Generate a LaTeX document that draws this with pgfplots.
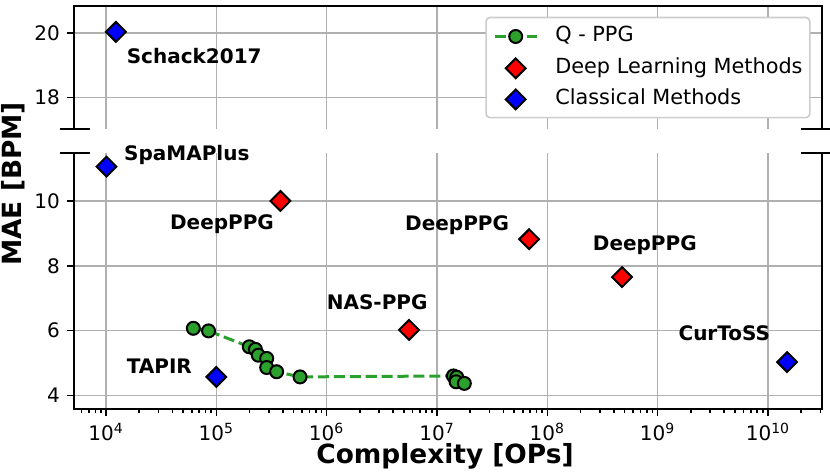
\documentclass[border=0pt]{standalone}
\usepackage{fontspec}
\setmainfont{DejaVu Sans}
\usepackage{pgfplots}
\pgfplotsset{compat=1.18}
\definecolor{qgreen}{HTML}{2CA02C}
\definecolor{gridgray}{HTML}{B0B0B0}
\definecolor{legedge}{HTML}{CCCCCC}
\tikzset{lbl/.style={font=\bfseries\fontsize{10}{12}\selectfont, anchor=base west, inner sep=0pt}}
\begin{document}
\begin{tikzpicture}
\begin{axis}[name=bot, at={(0,0)}, anchor=south west, height=128pt,
  xmode=log, width=374pt, scale only axis,
  xmin=5128, xmax=3.09e10,
  xtick={1e4,1e5,1e6,1e7,1e8,1e9,1e10},
  grid=major, grid style={color=gridgray, line width=0.8pt},
  axis line style={draw=none},
  tick align=outside, tick pos=left,
  major tick length=3.5pt, minor tick length=2pt,
  tick style={black, line width=0.8pt},
  tick label style={font=\fontsize{10}{12}\selectfont},
  clip=false,
  ymin=3.58, ymax=11.48, ytick={4,6,8,10},
  minor xtick={6e3,7e3,8e3,9e3,
    2e4,3e4,4e4,5e4,6e4,7e4,8e4,9e4,
    2e5,3e5,4e5,5e5,6e5,7e5,8e5,9e5,
    2e6,3e6,4e6,5e6,6e6,7e6,8e6,9e6,
    2e7,3e7,4e7,5e7,6e7,7e7,8e7,9e7,
    2e8,3e8,4e8,5e8,6e8,7e8,8e8,9e8,
    2e9,3e9,4e9,5e9,6e9,7e9,8e9,9e9,
    2e10,3e10},
  xticklabels={10\textsuperscript{4},10\textsuperscript{5},10\textsuperscript{6},10\textsuperscript{7},10\textsuperscript{8},10\textsuperscript{9},10\textsuperscript{10}},
  yticklabels={4,6,8,10},
]
\addplot[qgreen, line width=1.5pt, dash pattern=on 5.55pt off 2.4pt, mark=*, mark size=3.25pt,
  mark options={solid, fill=qgreen, draw=black, line width=1pt}] coordinates {
  (6.19e4,6.07) (8.5e4,5.99) (1.99e5,5.50) (2.26e5,5.42) (2.40e5,5.24) (2.86e5,5.14)
  (2.86e5,4.86) (3.52e5,4.73) (5.74e5,4.57) (1.41e7,4.60) (1.51e7,4.56) (1.49e7,4.42) (1.77e7,4.37)};
\addplot[only marks, mark=square*, mark size=3.5pt, mark options={rotate=45, draw=black, fill=red, line width=1pt}]
  coordinates {(3.81e5,10.0) (6.84e7,8.82) (4.76e8,7.65) (5.58e6,6.02)};
\addplot[only marks, mark=square*, mark size=3.5pt, mark options={rotate=45, draw=black, fill=blue, line width=1pt}]
  coordinates {(1.01e4,11.06) (1.0e5,4.57) (1.49e10,5.03)};
\node[lbl] at (axis cs:1.45e4,11.26) {SpaMAPlus};
\node[lbl] at (axis cs:3.78e4,9.12) {DeepPPG};
\node[lbl] at (axis cs:5.11e6,9.08) {DeepPPG};
\node[lbl] at (axis cs:2.57e8,8.46) {DeepPPG};
\node[lbl] at (axis cs:9.96e5,6.65) {NAS-PPG};
\node[lbl] at (axis cs:1.53e4,4.67) {TAPIR};
\node[lbl] at (axis cs:1.535e9,5.70) {CurToSS};
\end{axis}
\begin{axis}[name=top, at={(0,140pt)}, anchor=south west, height=61.5pt,
  xmode=log, width=374pt, scale only axis,
  xmin=5128, xmax=3.09e10,
  xtick={1e4,1e5,1e6,1e7,1e8,1e9,1e10},
  grid=major, grid style={color=gridgray, line width=0.8pt},
  axis line style={draw=none},
  tick align=outside, tick pos=left,
  major tick length=3.5pt, minor tick length=2pt,
  tick style={black, line width=0.8pt},
  tick label style={font=\fontsize{10}{12}\selectfont},
  clip=false,
  ymin=17.03, ymax=20.83, ytick={18,20}, yticklabels={18,20},
  xticklabels={}, xtick style={draw=none}, xminorticks=false,
  legend cell align=left,
  legend style={at={(0.9848,0.913)}, anchor=north east, draw=legedge, line width=0.8pt,
    rounded corners=2pt, fill=white, font=\fontsize{10.4}{12}\selectfont,
    inner xsep=3.65pt, inner ysep=3.25pt, row sep=3.75pt, column sep=8.65pt,
    nodes={inner sep=0pt, text height=7.3pt, text depth=2.2pt}},
  legend image code/.code={\path (0pt,-5.5pt) (20.85pt,5.5pt);
    \draw[sharp corners, mark repeat=2, mark phase=2, #1] plot coordinates {(0pt,0pt) (10.42pt,0pt) (20.85pt,0pt)};},
]
\addlegendimage{qgreen, line width=1.5pt, dash pattern=on 5.55pt off 2.4pt, mark=*, mark size=3.25pt,
  mark options={solid, fill=qgreen, draw=black, line width=1pt}}
\addlegendentry{Q - PPG}
\addlegendimage{only marks, mark=square*, mark size=3.5pt, mark options={rotate=45, draw=black, fill=red, line width=1pt}}
\addlegendentry{Deep Learning Methods}
\addlegendimage{only marks, mark=square*, mark size=3.5pt, mark options={rotate=45, draw=black, fill=blue, line width=1pt}}
\addlegendentry{Classical Methods}
\addplot[only marks, mark=square*, mark size=3.5pt, mark options={rotate=45, draw=black, fill=blue, line width=1pt}, forget plot]
  coordinates {(1.23e4,20.03)};
\node[lbl] at (axis cs:1.53e4,19.04) {Schack2017};
\end{axis}
\draw[line width=0.8pt] (top.south west) -- (top.north west) -- (top.north east) -- (top.south east);
\draw[line width=0.8pt] (bot.north west) -- (bot.south west) -- (bot.south east) -- (bot.north east);
\draw[line width=0.8pt] ([xshift=-7pt]top.south west) -- ([xshift=8pt]top.south west);
\draw[line width=0.8pt] ([xshift=-7pt]bot.north west) -- ([xshift=8pt]bot.north west);
\draw[line width=0.8pt] ([xshift=-10.5pt]top.south east) -- ([xshift=10.5pt]top.south east);
\draw[line width=0.8pt] ([xshift=-10.5pt]bot.north east) -- ([xshift=10.5pt]bot.north east);
\node[font=\bfseries\fontsize{13.2}{15}\selectfont, anchor=base, inner sep=0pt] at (185.5pt,-27.2pt) {Complexity [OPs]};
\node[font=\bfseries\fontsize{13.2}{15}\selectfont, anchor=base, rotate=90, inner sep=0pt] at (-26.2pt,112.5pt) {MAE [BPM]};
\pgfresetboundingbox
\path[use as bounding box] (-37pt,-32.5pt) rectangle (378pt,204.5pt);
\end{tikzpicture}
\end{document}
